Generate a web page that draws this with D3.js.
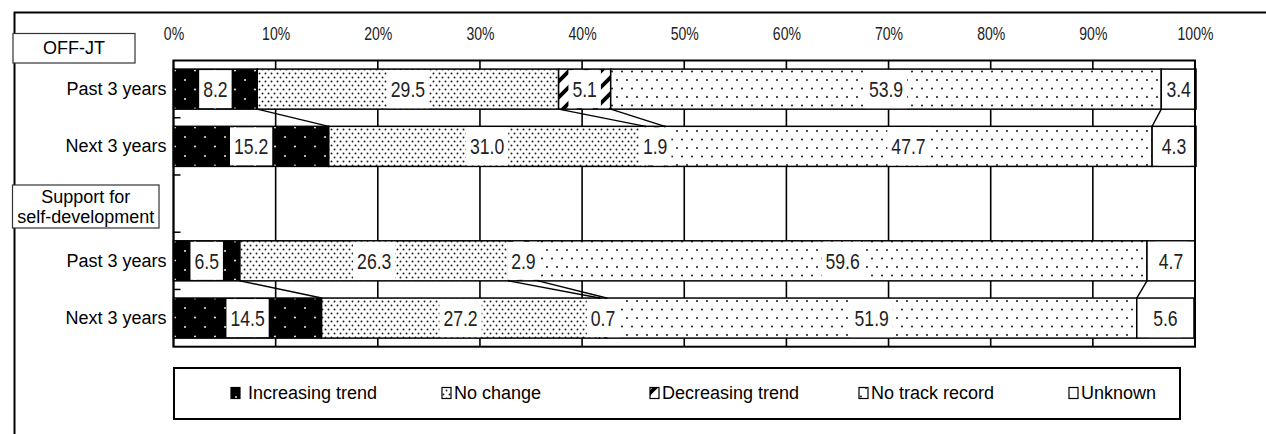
<!DOCTYPE html>
<html>
<head>
<meta charset="utf-8">
<script src="https://cdn.jsdelivr.net/npm/d3@7"></script>
<style>
  html, body { margin: 0; padding: 0; background: #fff; }
  svg { display: block; }
</style>
</head>
<body>
<svg id="chart" width="1266" height="434"></svg>
<script>
// Rows of the chart (the empty row carries the second group's heading)
const rowKeys = ["offPast", "offNext", "selfHead", "selfPast", "selfNext"];
const rowLabels = ["Past 3 years", "Next 3 years", "", "Past 3 years", "Next 3 years"];

// Series (percent of respondents)
const seriesNames = ["Increasing trend", "No change", "Decreasing trend", "No track record", "Unknown"];
const increasingTrend = [8.2, 15.2, null, 6.5, 14.5];
const noChange = [29.5, 31.0, null, 26.3, 27.2];
const decreasingTrend = [5.1, 1.9, null, 2.9, 0.7];
const noTrackRecord = [53.9, 47.7, null, 59.6, 51.9];
const unknownShare = [3.4, 4.3, null, 4.7, 5.6];

// Value axis
const tickValues = [0, 10, 20, 30, 40, 50, 60, 70, 80, 90, 100];
const tickLabels = ["0%", "10%", "20%", "30%", "40%", "50%", "60%", "70%", "80%", "90%", "100%"];

// Group headings and the row pairs joined by series lines
const groupTitles = [["OFF-JT"], ["Support for", "self-development"]];
const linkedPairs = [["offPast", "offNext"], ["selfPast", "selfNext"]];

const seriesValues = [increasingTrend, noChange, decreasingTrend, noTrackRecord, unknownShare];
const seriesKeys = ["inc", "same", "dec", "none", "unk"];

const table = rowKeys.map((key, i) => {
  const row = { key, label: rowLabels[i], empty: seriesValues.every(s => s[i] == null) };
  seriesKeys.forEach((k, j) => { row[k] = seriesValues[j][i] == null ? 0 : seriesValues[j][i]; });
  return row;
});

const stacked = d3.stack().keys(seriesKeys)(table);

const svg = d3.select("#chart");
const SANS = "'Liberation Sans', Arial, sans-serif";
const NARROW = 0.8;

const x = d3.scaleLinear().domain([0, 100]).range([173.5, 1195]);
const y = d3.scaleBand().domain(rowKeys).range([60.5, 346.7]).paddingInner(0.3).paddingOuter(0.15);
const bw = y.bandwidth();

// ---- fill patterns -------------------------------------------------------
const defs = svg.append("defs");
function pattern(id, w, h) {
  return defs.append("pattern").attr("id", id).attr("patternUnits", "userSpaceOnUse")
    .attr("width", w).attr("height", h);
}
{
  const p = pattern("pat-inc", 20, 19);
  p.append("rect").attr("width", 20).attr("height", 19).attr("fill", "#000");
  [[5, 4], [15, 13.5]].forEach(([cx, cy]) =>
    p.append("circle").attr("cx", cx).attr("cy", cy).attr("r", 1.1).attr("fill", "#ddd"));
}
{
  const p = pattern("pat-same", 6, 8);
  p.append("rect").attr("width", 6).attr("height", 8).attr("fill", "#fff");
  [[1.5, 1.5], [4.5, 5.5]].forEach(([cx, cy]) =>
    p.append("circle").attr("cx", cx).attr("cy", cy).attr("r", 1.0).attr("fill", "#222"));
}
{
  const p = pattern("pat-dec", 16, 16);
  p.append("rect").attr("width", 16).attr("height", 16).attr("fill", "#fff");
  p.append("path").attr("d", "M-4,4 L4,-4 M0,16 L16,0 M12,20 L20,12")
    .attr("stroke", "#000").attr("stroke-width", 3.8);
}
{
  const p = pattern("pat-none", 10, 17);
  p.append("rect").attr("width", 10).attr("height", 17).attr("fill", "#fff");
  [[2, 3.5], [7, 12]].forEach(([cx, cy]) =>
    p.append("circle").attr("cx", cx).attr("cy", cy).attr("r", 1.05).attr("fill", "#222"));
}
const fills = { inc: "url(#pat-inc)", same: "url(#pat-same)", dec: "url(#pat-dec)", none: "url(#pat-none)", unk: "#fff" };

// ---- outer frame ---------------------------------------------------------
svg.append("path").attr("d", "M14.5,440 L14.5,12.5 L1270,12.5")
  .attr("fill", "none").attr("stroke", "#000").attr("stroke-width", 2);

// ---- gridlines -----------------------------------------------------------
const [y0, y1] = y.range();
svg.append("g").selectAll("line").data(tickValues).join("line")
  .attr("x1", d => x(d)).attr("x2", d => x(d))
  .attr("y1", y0).attr("y2", y1)
  .attr("stroke", "#000").attr("stroke-width", 1.6);

// ---- value axis labels ---------------------------------------------------
const topAxis = svg.append("g").attr("transform", `translate(0,${y0})`)
  .call(d3.axisTop(x).tickValues(tickValues).tickSize(0).tickPadding(21)
    .tickFormat((d, i) => tickLabels[i]));
topAxis.select(".domain").remove();
topAxis.selectAll("text")
  .attr("font-family", SANS).attr("font-size", 18.5).attr("fill", "#222")
  .attr("transform", `scale(0.76,1)`);

// ---- category axis -------------------------------------------------------
const leftAxis = svg.append("g").attr("transform", `translate(${x(0)},0)`)
  .call(d3.axisLeft(y).tickSize(0).tickPadding(7)
    .tickFormat((d, i) => rowLabels[i]));
leftAxis.select(".domain").remove();
leftAxis.selectAll("text").attr("font-family", SANS).attr("font-size", 18).attr("fill", "#000");

// ticks at the category boundaries, pointing into the plot
const gap = y.step() - bw;
svg.append("g").selectAll("line").data(rowKeys.slice(0, -1)).join("line")
  .attr("x1", x(0)).attr("x2", x(0) + 7)
  .attr("y1", d => y(d) + bw + gap / 2).attr("y2", d => y(d) + bw + gap / 2)
  .attr("stroke", "#000").attr("stroke-width", 1.5);

// ---- stacked bars --------------------------------------------------------
const bars = svg.append("g");
stacked.forEach(layer => {
  bars.append("g").selectAll("rect")
    .data(layer.filter(d => !d.data.empty))
    .join("rect")
    .attr("x", d => x(d[0]))
    .attr("y", d => y(d.data.key))
    .attr("width", d => x(d[1]) - x(d[0]))
    .attr("height", bw)
    .attr("fill", fills[layer.key])
    .attr("stroke", "#000").attr("stroke-width", 1.5);
});

// ---- series lines between paired bars ------------------------------------
const byKey = k => stacked.map(layer => layer.find(d => d.data.key === k));
const linkLines = [];
linkedPairs.forEach(([a, b]) => {
  const la = byKey(a), lb = byKey(b);
  for (let j = 0; j < seriesKeys.length - 1; j++) {
    linkLines.push({ xa: la[j][1], ya: y(a) + bw, xb: lb[j][1], yb: y(b) });
  }
});
svg.append("g").selectAll("line").data(linkLines).join("line")
  .attr("x1", d => x(d.xa)).attr("y1", d => d.ya)
  .attr("x2", d => x(d.xb)).attr("y2", d => d.yb)
  .attr("stroke", "#000").attr("stroke-width", 1.4);

// ---- value labels --------------------------------------------------------
const labelData = [];
stacked.forEach((layer, j) => {
  layer.forEach((d, i) => {
    const v = seriesValues[j][i];
    if (v == null) return;
    labelData.push({ cx: x((d[0] + d[1]) / 2), cy: y(d.data.key) + bw / 2, text: v.toFixed(1) });
  });
});
const labels = svg.append("g").selectAll("g").data(labelData).join("g")
  .attr("transform", d => `translate(${d.cx},${d.cy})`);
labels.append("rect").attr("fill", "#fff");
labels.append("text")
  .attr("text-anchor", "middle").attr("dy", "0.36em")
  .attr("font-family", SANS).attr("font-size", 22).attr("fill", "#222")
  .attr("transform", `scale(${NARROW},1)`)
  .text(d => d.text);
labels.each(function () {
  const g = d3.select(this);
  const w = g.select("text").node().getComputedTextLength() * NARROW + 8;
  g.select("rect").attr("x", -w / 2).attr("width", w)
    .attr("y", -bw / 2 + 1).attr("height", bw - 2);
});

// ---- plot border ---------------------------------------------------------
svg.append("rect").attr("x", x(0)).attr("y", y0)
  .attr("width", x(100) - x(0)).attr("height", y1 - y0)
  .attr("fill", "none").attr("stroke", "#000").attr("stroke-width", 2);

// ---- group headings ------------------------------------------------------
const headBoxes = [
  { x: 13, y: 33.5, w: 122, h: 29.5, lines: groupTitles[0], lineY: [48] },
  { x: 12.5, y: 185, w: 146.5, h: 43, lines: groupTitles[1], lineY: [197, 217] }
];
headBoxes.forEach(b => {
  svg.append("rect").attr("x", b.x).attr("y", b.y).attr("width", b.w).attr("height", b.h)
    .attr("fill", "#fff").attr("stroke", "#333").attr("stroke-width", 1.2);
  b.lines.forEach((t, i) => {
    svg.append("text").attr("x", b.x + b.w / 2).attr("y", b.lineY[i]).attr("dy", "0.35em")
      .attr("text-anchor", "middle").attr("font-family", SANS).attr("font-size", 18)
      .attr("fill", "#000").text(t);
  });
});

// ---- legend --------------------------------------------------------------
const legend = svg.append("g");
legend.append("rect").attr("x", 174).attr("y", 368).attr("width", 1006).attr("height", 51)
  .attr("fill", "#fff").attr("stroke", "#000").attr("stroke-width", 2);
const legendX = [231, 442, 650, 859, 1069];
const legendItems = legend.selectAll("g.item").data(seriesNames).join("g")
  .attr("class", "item")
  .attr("transform", (d, i) => `translate(${legendX[i]},393)`);
legendItems.append("rect")
  .attr("x", 0).attr("y", -5.5).attr("width", 9).attr("height", 11)
  .attr("fill", (d, i) => fills[seriesKeys[i]])
  .attr("stroke", "#000").attr("stroke-width", 1.2);
legendItems.append("text")
  .attr("x", (d, i) => i === 0 ? 17 : 12).attr("dy", "0.35em")
  .attr("font-family", SANS).attr("font-size", 18).attr("fill", "#000")
  .text(d => d);
</script>
</body>
</html>
